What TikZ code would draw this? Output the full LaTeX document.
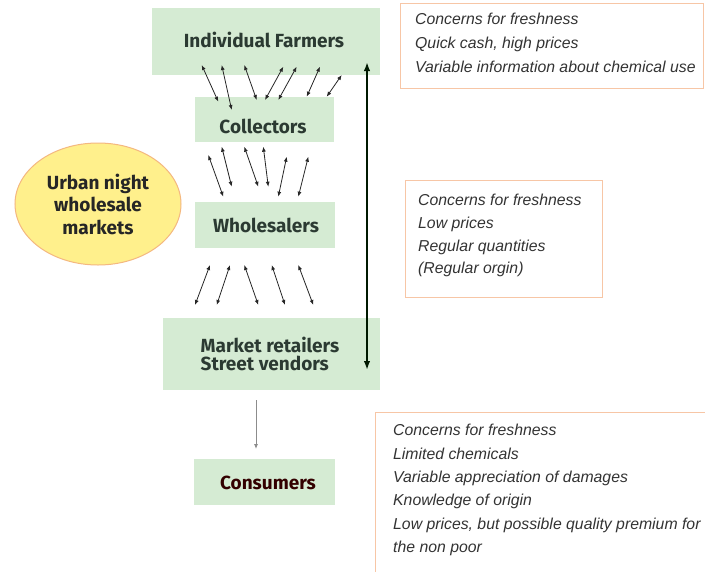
\documentclass[tikz,border=0pt]{standalone}
\usepackage{fontspec}
\setmainfont{Liberation Sans}
\newfontfamily\boxfont{Fira Sans}
\usetikzlibrary{arrows.meta,shapes.geometric}
\definecolor{boxgreen}{HTML}{D5EBD3}
\definecolor{labcol}{HTML}{2B3A32}
\definecolor{ellfill}{HTML}{FFF08C}
\definecolor{elldraw}{HTML}{F4B880}
\definecolor{notedraw}{HTML}{F7C6A6}
\definecolor{notetext}{HTML}{333333}
\tikzset{
  gbox/.style={fill=boxgreen, draw=none, inner sep=0pt},
  lbl/.style={font=\boxfont\bfseries\fontsize{19}{18}\selectfont, text=labcol, align=center, inner sep=0pt},
  note/.style={draw=notedraw, line width=1pt, fill=white},
  notetxt/.style={text=notetext, align=left, anchor=north west, inner sep=0pt},
  dbl/.style={{Latex[length=5pt,width=4pt]}-{Latex[length=5pt,width=4pt]}, line width=0.8pt, draw=black!85},
  bigarrow/.style={{Latex[length=9pt,width=6.5pt]}-{Latex[length=9pt,width=6.5pt]}, line width=2.4pt, draw=black!90!green},
  onearrow/.style={-{Latex[length=5pt,width=4pt]}, line width=0.8pt, draw=black!45}
}
\begin{document}
\begin{tikzpicture}[x=1pt,y=-1pt]
\useasboundingbox (0,0) rectangle (705,571);
\fill[white] (0,0) rectangle (705,571);

% green boxes
\node[gbox, minimum width=228pt, minimum height=67pt] (farm) at (266,41.5) {};
\node[lbl] (farmT) at (264,40) {Individual Farmers};
\node[gbox, minimum width=139pt, minimum height=45pt] (coll) at (264.5,119.5) {};
\node[lbl] (collT) at (263,126) {Collectors};
\node[gbox, minimum width=140pt, minimum height=46pt] (whole) at (265,225) {};
\node[lbl] (wholeT) at (266,225) {Wholesalers};
\node[gbox, minimum width=217pt, minimum height=72pt] (market) at (271.5,354) {};
\node[lbl, align=left] (marketT) at (270,354) {Market retailers\\Street vendors};
\node[gbox, minimum width=141pt, minimum height=46pt] (cons) at (264.7,482) {};
\node[lbl, text=black!80!red] (consT) at (268,483) {Consumers};

% ellipse
\node[ellipse, fill=ellfill, draw=elldraw, line width=1pt, minimum width=166pt, minimum height=122pt,
      font=\boxfont\bfseries\fontsize{19}{22.5}\selectfont, text=black!85, align=center, inner sep=0pt] (urban) at (98,204)
      {Urban night\\wholesale\\markets};

% note boxes
\draw[note] (400,3) rectangle (703,88);
\node[notetxt, font=\itshape\fontsize{15.8}{24}\selectfont] (n1) at (415,13) {Concerns for freshness\\Quick cash, high prices\\Variable information about chemical use};
\draw[note] (405,180) rectangle (602,297);
\node[notetxt, font=\itshape\fontsize{15.8}{22.7}\selectfont] (n2) at (418,194) {Concerns for freshness\\Low prices\\Regular quantities\\(Regular orgin)};
\draw[note] (375,412) rectangle (710,575);
\node[notetxt, font=\itshape\fontsize{15.8}{23.4}\selectfont] (n3) at (393,424) {Concerns for freshness\\Limited chemicals\\Variable appreciation of damages\\Knowledge of origin\\Low prices, but possible quality premium for\\the non poor};

% big double arrow
\coordinate (bigtop) at (367,62);
\coordinate (bigbot) at (367,370);
\draw[bigarrow] (bigtop) -- (bigbot);

% farmers <-> collectors
\foreach \xa/\ya/\xb/\yb in {201.7/65/218.3/101.7, 221.7/65/231.7/110, 244.3/65/256.7/100, 283.3/66.7/265/100, 296.7/66.7/278.3/100, 320/66.7/306.7/96.7, 341.7/75/326.7/96.7}
  \draw[dbl] (\xa,\ya) -- (\xb,\yb);

% collectors <-> wholesalers
\foreach \xa/\ya/\xb/\yb in {208.3/155/223.3/196.7, 221.7/146.7/231.7/186.7, 244.3/146.7/258.3/186.7, 263.3/146.7/268.3/186.7, 286.7/156.7/278.3/196.7, 308.3/156.7/298.3/196.7}
  \draw[dbl] (\xa,\ya) -- (\xb,\yb);

% wholesalers <-> market
\foreach \xa/\ya/\xb/\yb in {210/265/195/305, 230/265/216.7/305, 244.3/265/258.3/305, 271.7/265/285/305, 298.3/265/313.3/305}
  \draw[dbl] (\xa,\ya) -- (\xb,\yb);

% market -> consumers
\coordinate (ctop) at (256,400);
\coordinate (cbot) at (256,449);
\draw[onearrow] (ctop) -- (cbot);
\end{tikzpicture}
\end{document}
